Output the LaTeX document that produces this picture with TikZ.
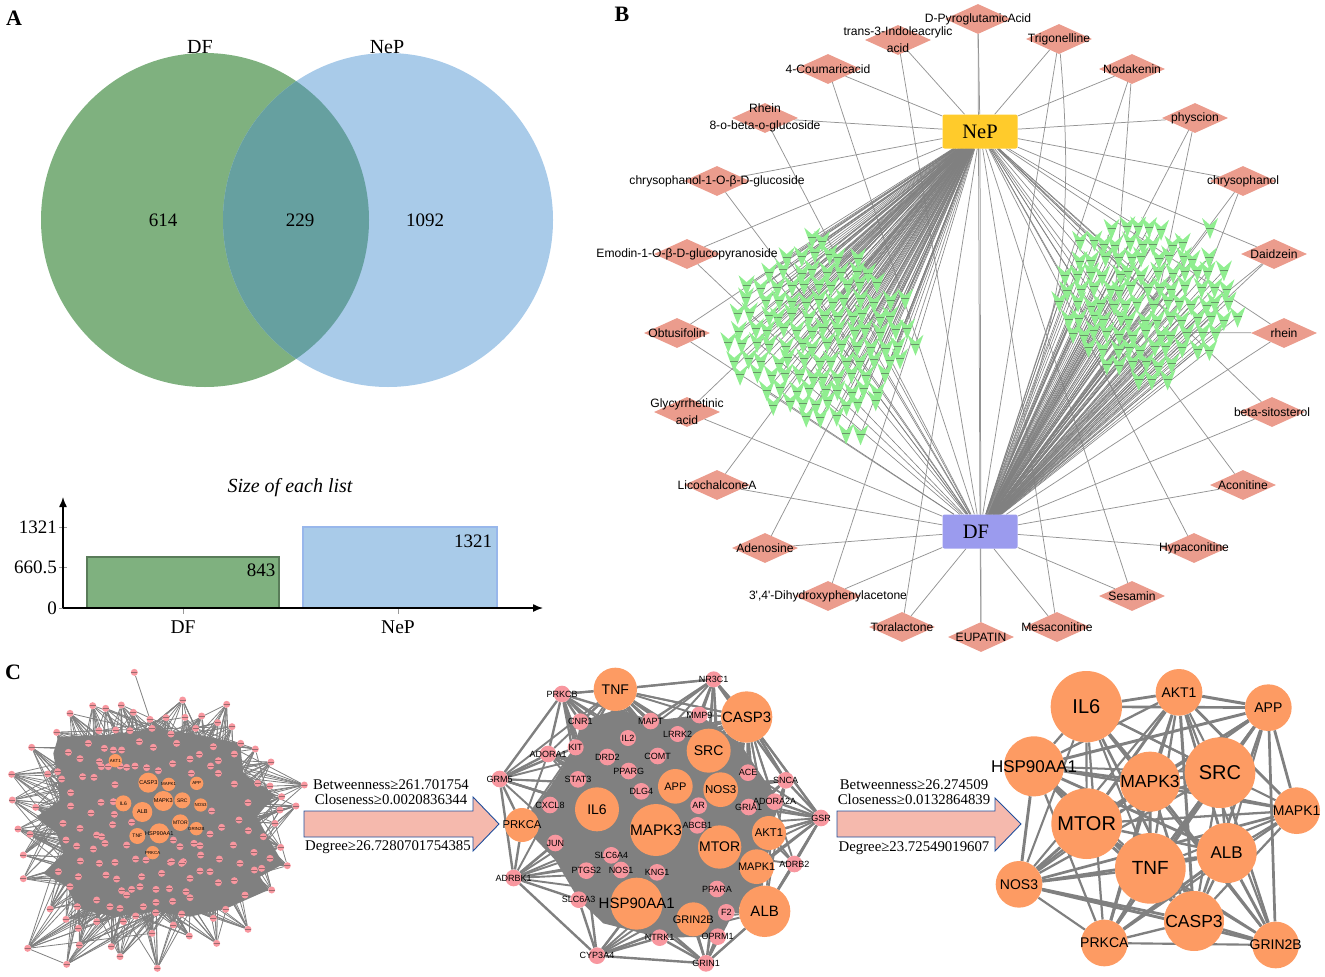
\documentclass[tikz,border=0pt]{standalone}
\usepackage{fontspec}
\setmainfont{Liberation Serif}
\newfontfamily\labelfont{Liberation Sans}
\usetikzlibrary{arrows.meta,shapes.geometric}
\pgfdeclarelayer{edges}
\pgfsetlayers{edges,main}
\definecolor{vennG}{HTML}{7FB17F}
\definecolor{vennB}{HTML}{A9CBE9}
\definecolor{vennM}{HTML}{66A0A0}
\definecolor{drugC}{HTML}{EB9C8D}
\definecolor{veeC}{HTML}{90EE90}
\definecolor{pinkC}{HTML}{F8979F}
\definecolor{orangeC}{HTML}{FD9B63}
\definecolor{edgeC}{HTML}{808080}
\definecolor{arrowC}{HTML}{F5B9AD}
\definecolor{arrowL}{HTML}{1F4E9C}
\def\druglist{D-PyroglutamicAcid/978/19,{trans-3-Indoleacrylic\\acid}/898/40,4-Coumaricacid/828/69,
   {Rhein\\8-o-beta-o-glucoside}/765/118,chrysophanol-1-O-β-D-glucoside/717/181,Emodin-1-O-β-D-glucopyranoside/687/254,
   Obtusifolin/677/333,{Glycyrrhetinic\\acid}/687/412,LicochalconeA/717/485,Adenosine/765/548,
   {3',4'-Dihydroxyphenylacetone}/828/596,Toralactone/902/627,EUPATIN/981/637,Mesaconitine/1057/627,
   Sesamin/1132/596,Hypaconitine/1194/548,Aconitine/1243/485,beta-sitosterol/1272/412,rhein/1284/333,
   Daidzein/1274/254,chrysophanol/1243/181,physcion/1195/118,Nodakenin/1132/69,Trigonelline/1059/39}
\def\leftrows{240/803/820,255/785/855,270/765/870,285/748/880,300/742/900,315/738/905,330/735/910,
   345/730/912,360/727/905,375/742/895,390/760/885,403/775/880,417/800/840,432/846/846}
\def\rightrows{228/1105/1165,243/1078/1190,258/1072/1205,273/1066/1225,288/1063/1225,303/1062/1235,
   318/1060/1235,333/1070/1215,348/1085/1205,363/1105/1180,378/1135/1165}
\def\midgenes{TNF/406/88/65/14,CASP3/800/171/77/15,SRC/686/272/66/14,APP/586/379/52/11,NOS3/722/389/52/11.5,
   IL6/351/448/66/14,PRKCA/126/495/51/11.3,MAPK3/528/510/78/15.3,AKT1/867/519/51/11.3,MTOR/719/561/65/14,MAPK1/830/620/52/11,
   HSP90AA1/470/731/78/15,GRIN2B/640/778/51/11,ALB/854/754/77/15,NR3C1/701/58/24/9,PRKCB/246/102/25/9,CNR1/301/185/25/9,
   MAPT/512/183/25/9,MMP9/658/165/25/9,IL2/444/234/24/9,LRRK2/593/222/24/9,KIT/287/262/24/9,ADORA1/204/282/25/9,DRD2/382/291/25/9,
   COMT/533/288/25/9,GRM5/59/357/25/9,STAT3/294/358/25/9,PPARG/446/333/25/9,ACE/804/338/25/9,SNCA/917/361/25/9,DLG4/484/394/25/9,
   CXCL8/210/435/25/9,AR/656/437/25/9,GRIA1/806/441/25/9,ADORA2A/884/425/25/9,GSR/1023/474/25/9,ABCB1/652/496/25/9,JUN/226/549/25/9,
   SLC6A4/394/586/25/9,NOS1/423/630/25/9,PTGS2/319/632/25/9,KNG1/531/637/25/9,ADRB2/943/612/25/9,ADRBK1/101/654/25/9,
   SLC6A3/296/719/25/9,PPARA/711/687/25/9,F2/739/757/25/9,NTRK1/539/833/25/9,OPRM1/713/830/25/9,CYP3A4/351/887/25/9,GRIN1/678/910/25/9}
\begin{document}
\begin{tikzpicture}[x=1pt,y=-1pt,
   serif/.style={inner sep=0pt,font=\fontsize{#1}{#1}\selectfont},
   panelletter/.style={inner sep=0pt,font=\bfseries\fontsize{22}{22}\selectfont},
   drugbox/.style={diamond,fill=drugC,minimum width=66pt,minimum height=30pt,inner sep=0pt},
   drugtext/.style={inner sep=0pt,align=center,font=\labelfont\fontsize{12.1}{16.7}\selectfont},
   hubbox/.style={rectangle,rounded corners=2pt,minimum width=75pt,minimum height=34pt,inner sep=0pt,font=\fontsize{20.5}{20.5}\selectfont},
   spoke/.style={draw=black!42,line width=0.75pt},
   fan/.style={draw=edgeC,line width=0.6pt},
   gene/.style={circle,inner sep=0pt,fill=orangeC},
   smallgene/.style={circle,inner sep=0pt,fill=pinkC,minimum size=7pt},
   genetext/.style={inner sep=0pt,font=\labelfont\fontsize{#1}{#1}\selectfont},
   geneedge/.style={draw=edgeC,line width=#1},
   blockarrow/.style={draw=arrowL,fill=arrowC,line width=0.9pt},
   smear/.style={draw=black!75,line width=0.6pt,opacity=0.5},
   tickmark/.style={draw=black!40,line width=0.8pt},
   vee/.pic={\fill[veeC] (-8,-10) -- (0,-3) -- (8,-10) -- (4,1) -- (0,11) -- (-4,1) -- cycle;
             \draw[smear] (-4,0) -- (4,0);}]
\useasboundingbox (0,0) rectangle (1325,977);
\pgfmathsetseed{4711}

\node[panelletter] (panelA) at (14,18) {A};
\node[panelletter] (panelB) at (622,14) {B};
\node[panelletter] (panelC) at (13,672) {C};

\fill[vennG] (205,220) circle [x radius=164,y radius=167];
\fill[vennB] (388,220) circle [x radius=165,y radius=167];
\begin{scope}
\clip (205,220) circle [x radius=164,y radius=167];
\fill[vennM] (388,220) circle [x radius=165,y radius=167];
\end{scope}
\node[serif=20] (vennDF) at (200,47) {DF};
\node[serif=20] (vennNeP) at (387,47) {NeP};
\node[serif=19] (only1) at (163,220) {614};
\node[serif=19] (both) at (300,220) {229};
\node[serif=19] (only2) at (425,220) {1092};

\node[serif=20,font=\itshape\fontsize{20}{20}\selectfont] (listtitle) at (290,488) {Size of each list};
\draw[fill=vennG,draw=black!30!vennG,line width=1.5pt] (87,557) rectangle (279,608);
\draw[fill=vennB,draw=blue!10!vennB,line width=1.5pt] (303,527) rectangle (497,608);
\coordinate (org) at (63,608);
\coordinate (xend) at (543,608);
\coordinate (yend) at (63,497);
\foreach \val/\y in {1321/527,660.5/567,0/608}{
  \draw[tickmark] (59,\y) -- (67,\y);
  \node[serif=19,anchor=east] (tick\y) at (57,\y) {\val};
}
\draw[tickmark] (183,608) -- (183,614);
\draw[tickmark] (398,608) -- (398,614);
\draw[line width=1.4pt,-{Latex[length=10pt,width=8pt]}] (org) -- (xend);
\draw[line width=1.4pt,-{Latex[length=10pt,width=8pt]}] (org) -- (yend);
\node[serif=19] (bar1) at (261,570) {843};
\node[serif=19] (bar2) at (473,541) {1321};
\node[serif=19.5] (cat1) at (183,627) {DF};
\node[serif=19.5] (cat2) at (398,627) {NeP};

\node[hubbox,fill={rgb,255:red,255;green,203;blue,43}] (NeP) at (980,131.5) {NeP};
\node[hubbox,fill={rgb,255:red,155;green,155;blue,238}] (DF) at (980,531.5) {\hspace*{-8pt}DF};

\foreach \drug/\x/\y [count=\i] in \druglist{
  \node[drugbox] (d\i) at (\x,\y) {};
}
\begin{pgfonlayer}{edges}
\foreach \i in {1,...,24}{
  \draw[spoke] (d\i) -- (NeP);
  \draw[spoke] (d\i) -- (DF);
}
\foreach \ry/\xa/\xb [count=\r] in \leftrows{
  \pgfmathsetmacro\xc{\xa+14}
  \foreach \cx [count=\c] in {\xa,\xc,...,\xb}{
    \pgfmathsetmacro\vx{\cx+7*mod(\r,2)+(rnd-0.5)*7}
    \pgfmathsetmacro\vy{\ry+(rnd-0.5)*6}
    \coordinate (lv\r-\c) at (\vx,\vy);
    \draw[fan] (NeP) -- (lv\r-\c);
    \pgfmathparse{rnd<0.08?1:0}
    \ifnum\pgfmathresult=1 \draw[fan] (DF) -- (lv\r-\c); \fi
  }
}
\foreach \ry/\xa/\xb [count=\r] in \rightrows{
  \pgfmathsetmacro\xc{\xa+13}
  \foreach \cx [count=\c] in {\xa,\xc,...,\xb}{
    \pgfmathsetmacro\vx{\cx+6*mod(\r,2)+(rnd-0.5)*7}
    \pgfmathsetmacro\vy{\ry+(rnd-0.5)*6}
    \coordinate (rv\r-\c) at (\vx,\vy);
    \draw[fan] (DF) -- (rv\r-\c);
    \pgfmathparse{rnd<0.1?1:0}
    \ifnum\pgfmathresult=1 \draw[fan] (NeP) -- (rv\r-\c); \fi
  }
}
\coordinate (rvtip) at (1210,228);
\draw[fan] (DF) -- (rvtip);
\foreach \a/\b in {d23/rv6-5,d22/rv5-8,d21/rv5-11,d20/rv6-13,d19/rv8-10}{
  \draw[spoke] (\a) -- (\b);
}
\draw[spoke] (d24) to[bend left=14] (DF);
\end{pgfonlayer}
\foreach \ry/\xa/\xb [count=\r] in \leftrows{
  \pgfmathsetmacro\xc{\xa+14}
  \foreach \cx [count=\c] in {\xa,\xc,...,\xb}{
    \pic at (lv\r-\c) {vee};
  }
}
\foreach \ry/\xa/\xb [count=\r] in \rightrows{
  \pgfmathsetmacro\xc{\xa+13}
  \foreach \cx [count=\c] in {\xa,\xc,...,\xb}{
    \pic at (rv\r-\c) {vee};
  }
}
\pic at (rvtip) {vee};
\foreach \drug/\x/\y [count=\i] in \druglist{
  \node[drugtext] (dt\i) at (\x,\y) {\drug};
}

\begin{scope}[shift={(0,660)},scale=1/3]
\begin{pgfonlayer}{edges}
\fill[edgeC] (175,230) -- (320,225) -- (465,205) -- (600,225) -- (720,250) -- (730,340) -- (825,405) -- (770,470)
   -- (820,560) -- (850,612) -- (780,650) -- (805,690) -- (680,745) -- (570,770) -- (470,755) -- (340,770) -- (232,745) -- (200,680)
   -- (130,640) -- (190,580) -- (170,520) -- (110,470) -- (180,420) -- (170,340) -- (160,280) -- cycle;
\end{pgfonlayer}
\foreach \x/\y [count=\i] in {265/250,297/212,347/210,390/212,456/205,513/222,587/205,313/265,340/270,365/270,418/245,460/262,530/250,
   640/260,598/283,240/296,298/305,248/350,282/352,212/398,212/438,304/320,325/320,360/318,380/322,405/318,440/323,475/332,
   518/311,570/297,655/302,632/318,574/340,655/340,703/372,744/428,189/490,273/459,240/505,290/525,230/558,280/567,345/374,
   340/425,303/427,343/463,395/487,338/494,305/530,380/555,315/550,407/597,438/600,345/607,298/610,241/603,235/650,318/645,
   350/657,425/650,485/640,511/607,550/605,420/680,468/688,508/686,570/655,600/633,630/635,658/597,720/610,762/577,700/555,
   790/530,745/512,825/490,717/480,635/453,665/502,630/522,600/557,582/550,540/560,520/540,602/585,545/610,515/605,655/668,
   703/662,290/720,330/740,380/705,395/688,365/692,430/740,468/727,518/724,570/713,558/695,360/745,467/758}{
  \node[smallgene] (li\i) at (\x,\y) {};
  \draw[smear] (\x-9,\y) -- (\x+9,\y);
}
\foreach \x/\y [count=\i] in {450/178,548/120,680/133,364/135,278/137,317/145,210/160,400/157,498/173,555/172,605/168,653/188,696/200,
   170/217,722/250,766/267,95/262,205/277,703/282,813/306,143/342,35/343,173/335,185/357,37/420,107/442,773/370,810/378,
   913/375,845/410,888/438,840/450,54/507,90/523,198/540,70/585,175/635,70/656,842/562,810/595,862/617,763/630,785/625,
   815/690,735/705,210/680,232/740,198/778,150/747,677/748,640/775,744/808,568/828,650/850,520/795,456/820,370/785,290/785,
   235/805,238/855,334/860,360/890,472/925,200/913,83/865,407/768,545/762}{
  \node[smallgene] (lo\i) at (\x,\y) {};
  \draw[smear] (\x-9,\y) -- (\x+9,\y);
}
\node[smallgene] (ltop) at (403,37) {};
\draw[smear] (394,37) -- (412,37);
\begin{pgfonlayer}{edges}
\foreach \i in {1,...,67}{
  \foreach \k in {1,...,12}{
    \pgfmathrandominteger{\t}{1}{101}
    \draw[geneedge=0.8pt] (lo\i) -- (li\t);
  }
}
\draw[geneedge=0.8pt] (ltop) -- (lo1);
\draw[geneedge=0.8pt] (lo65) -- (lo64);
\draw[geneedge=0.8pt] (lo65) -- (lo56);
\end{pgfonlayer}
\foreach \gene/\x/\y/\rad/\fs in {CASP3/445/368/30/5.5,AKT1/346/302/20/4.4,MAPK1/506/373/20/4.4,APP/590/370/20/4.4,IL6/370/430/24/5,
   MAPK3/490/423/30/5.6,SRC/547/421/24/5,NOS3/602/435/20/4.4,ALB/427/456/30/5.6,MTOR/541/488/25/5,GRIN2B/589/506/20/4.4,
   TNF/412/528/24/5,HSP90AA1/478/520/30/5.6,PRKCA/458/578/20/4.4}{
  \node[gene,minimum size=\rad*2/3] (l\gene) at (\x,\y) {};
  \node[genetext=\fs] (lt\gene) at (\x,\y) {\gene};
}
\end{scope}

\draw[blockarrow] (304,811) -- (473,811) -- (473,797) -- (499,824) -- (473,851) -- (473,837) -- (304,837) -- cycle;
\node[serif=14.8] (between1) at (391,785) {Betweenness≥261.701754};
\node[serif=14.8] (close1) at (391,799) {Closeness≥0.0020836344};
\node[serif=14.8] (degree1) at (388,847) {Degree≥26.7280701754385};

\draw[blockarrow] (837,811) -- (995,811) -- (995,798) -- (1021,824) -- (995,851) -- (995,837) -- (837,837) -- cycle;
\node[serif=14.8] (between2) at (914,785) {Betweenness≥26.274509};
\node[serif=14.8] (close2) at (914,799) {Closeness≥0.0132864839};
\node[serif=14.8] (degree2) at (914,848) {Degree≥23.72549019607};

\begin{scope}[shift={(480,660)},scale=1/3]
\begin{pgfonlayer}{edges}
\fill[edgeC] (301,185) -- (406,150) -- (512,183) -- (658,165) -- (780,250) -- (880,400) -- (880,520) -- (840,680) -- (760,760)
   -- (713,830) -- (539,833) -- (370,790) -- (296,719) -- (226,600) -- (126,495) -- (210,380) -- (287,262) -- cycle;
\end{pgfonlayer}
\foreach \gene/\x/\y/\rad/\fs in \midgenes{
  \ifdim\rad pt>30pt
    \node[gene,minimum size=\rad*2/3] (m\gene) at (\x,\y) {};
  \else
    \node[gene,fill=pinkC,minimum size=\rad*2/3] (m\gene) at (\x,\y) {};
  \fi
}
\foreach \gene/\x/\y/\rad/\fs in \midgenes{
  \node[genetext=\fs] (mt\gene) at (\x,\y) {\gene};
}
\begin{pgfonlayer}{edges}
\foreach \a/\x/\y/\rad/\fs in \midgenes{
  \foreach \hub in {TNF,CASP3,SRC,APP,NOS3,IL6,PRKCA,MAPK3,AKT1,MTOR,MAPK1,HSP90AA1,GRIN2B,ALB}{
    \pgfmathparse{rnd<0.6?1:0}
    \ifnum\pgfmathresult=1 \draw[geneedge=1.9pt] (m\a) -- (m\hub); \fi
  }
}
\foreach \a/\b in {NR3C1/TNF,TNF/PRKCB,PRKCB/GRM5,PRKCB/ADORA1,GRM5/ADORA1,GRM5/PRKCA,GRM5/ADRBK1,GRM5/IL6,GRM5/KIT,PRKCA/ADRBK1,ADRBK1/SLC6A3,
   ADRBK1/CYP3A4,ADRBK1/JUN,CYP3A4/SLC6A3,CYP3A4/HSP90AA1,CYP3A4/NTRK1,CYP3A4/GRIN1,CYP3A4/PTGS2,CYP3A4/GRIN2B,GRIN1/NTRK1,GRIN1/OPRM1,GRIN1/GRIN2B,GRIN1/ALB,GRIN1/HSP90AA1,
   GRIN1/F2,ALB/GSR,ALB/ADRB2,GSR/ADRB2,GSR/SNCA,GSR/AKT1,GSR/CASP3,GSR/ADORA2A,GSR/MAPK1,GSR/GRIA1,SNCA/CASP3,CASP3/NR3C1,NR3C1/SRC,NR3C1/MMP9,NR3C1/MAPT,NR3C1/SNCA,
   PRKCB/CNR1,PRKCB/KIT,PRKCB/STAT3,PRKCB/MAPT,PRKCB/IL6}{
  \draw[geneedge=2.4pt] (m\a) -- (m\b);
}
\end{pgfonlayer}
\end{scope}

\begin{scope}[shift={(960,660)},scale=1/3]
\foreach \gene/\x/\y/\rad/\fs in {IL6/379/140/107/20,AKT1/657/97/70/14,APP/925/143/70/14,HSP90AA1/222/319/90/17,MAPK3/570/365/90/17.5,
   SRC/780/338/106/20,MTOR/380/491/106/20,MAPK1/1010/452/70/14,TNF/571/625/106/19,ALB/800/579/90/17,NOS3/177/673/70/14,
   CASP3/702/783/90/17.5,PRKCA/433/849/70/14,GRIN2B/947/855/70/14}{
  \node[gene,minimum size=\rad*2/3] (r\gene) at (\x,\y) {};
  \node[genetext=\fs] (rt\gene) at (\x,\y) {\gene};
}
\begin{pgfonlayer}{edges}
\foreach \a [count=\i] in {IL6,AKT1,APP,HSP90AA1,MAPK3,SRC,MTOR,MAPK1,TNF,ALB,NOS3,CASP3,PRKCA,GRIN2B}{
  \foreach \b [count=\j] in {IL6,AKT1,APP,HSP90AA1,MAPK3,SRC,MTOR,MAPK1,TNF,ALB,NOS3,CASP3,PRKCA,GRIN2B}{
    \ifnum\j<\i
      \pgfmathsetmacro\wd{2.0+1.0*rnd}
      \pgfmathparse{rnd<0.88?1:0}
      \ifnum\pgfmathresult=1 \draw[geneedge=\wd pt] (r\a) -- (r\b); \fi
    \fi
  }
}
\end{pgfonlayer}
\end{scope}
\end{tikzpicture}
\end{document}
